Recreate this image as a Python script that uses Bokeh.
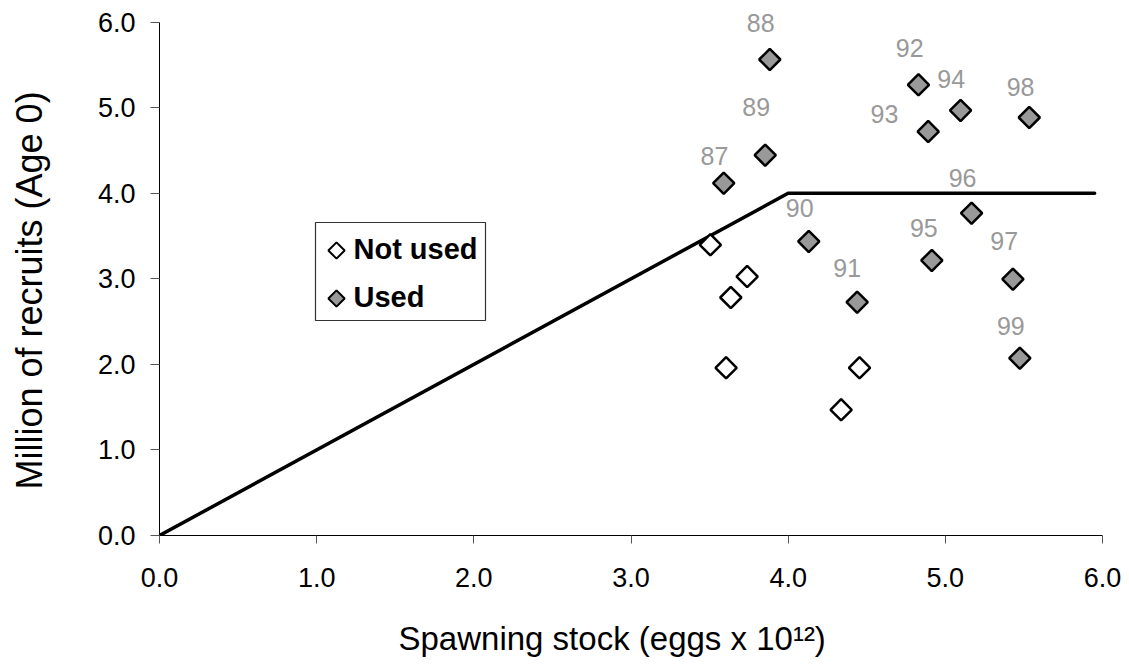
from bokeh.plotting import figure
from bokeh.models import (Range1d, FixedTicker, PrintfTickFormatter, ColumnDataSource, Title)
from bokeh.core.properties import value
from bokeh.embed import file_html
from bokeh.resources import INLINE
import math

# ---------------- data ----------------
line_x = [0.0, 4.0, 5.95]
line_y = [0.0, 4.0, 4.0]

unused_x = [3.505, 3.739, 3.635, 3.605, 4.454, 4.337]
unused_y = [3.398, 3.027, 2.782, 1.960, 1.960, 1.469]

used_years = ["87", "88", "89", "90", "91", "92", "93", "94", "95", "96", "97", "98", "99"]
used_x = [3.590, 3.883, 3.854, 4.131, 4.439, 4.829, 4.891, 5.097, 4.914, 5.167, 5.430, 5.534, 5.474]
used_y = [4.118, 5.564, 4.445, 3.437, 2.727, 5.268, 4.722, 4.968, 3.215, 3.767, 2.996, 4.886, 2.072]

x_ticks = [0, 1, 2, 3, 4, 5, 6]
y_ticks = [0, 1, 2, 3, 4, 5, 6]

legend_labels = ["Not used", "Used"]
x_title = "Spawning stock (eggs x 10\u00b9\u00b2)"
y_title = "Million of recruits (Age 0)"

# ---------------- layout (pixels) ----------------
label_dx = [-9.3, -9, -9, -9, -10, -8.7, -43.7, -9.3, -8, -9, -8.7, -8.7, -9]
label_dy = [-27, -36, -48, -33.5, -34, -37, -17.7, -31, -32.5, -35, -38, -31, -32]

CW, CH = 1129, 671
FL, FR = 159, 1102          # frame left / right (x = 0 .. 6)
FY6, FY0 = 21.7, 535        # pixel rows of y = 6 and y = 0
BL, BR, BT, BB = FL, CW - FR, 0, CH - FY0
PX_X = (FR - FL) / 6.0
PX_Y = (FY0 - FY6) / 6.0
Y_END = FY0 / PX_Y           # frame extends to top of canvas so labels are not clipped

FONT = "Liberation Sans"


def px_to_data(px, py):
    return (px - FL) / PX_X, (FY0 - py) / PX_Y


p = figure(width=CW, height=CH, output_backend="svg", toolbar_location=None,
           x_range=Range1d(0, 6), y_range=Range1d(0, Y_END),
           min_border_left=BL, min_border_right=BR,
           min_border_top=BT, min_border_bottom=BB)
p.outline_line_color = None
p.xgrid.visible = False
p.ygrid.visible = False
p.background_fill_color = "white"
p.border_fill_color = "white"

for ax, ticks in ((p.xaxis[0], x_ticks), (p.yaxis[0], y_ticks)):
    ax.ticker = FixedTicker(ticks=ticks)
    ax.formatter = PrintfTickFormatter(format="%.1f")
    ax.bounds = (0, 6)
    ax.axis_line_color = "black"
    ax.axis_line_width = 1
    ax.major_tick_line_color = "#555555"
    ax.major_tick_in = 0
    ax.minor_tick_line_color = None
    ax.major_label_text_font = FONT
    ax.major_label_text_font_size = "27px"
    ax.major_label_text_color = "black"

p.xaxis.major_tick_out = 8
p.xaxis.major_label_standoff = 24
p.yaxis.major_tick_out = 9
p.yaxis.major_label_standoff = 15


def spacer(size):
    # blank side-panel entry that only reserves room between tick labels and title
    return Title(text=" ", standoff=size, text_font_size="1px", text_color="white")


p.add_layout(spacer(20), "below")
p.add_layout(spacer(37), "left")

# axis titles (side-panel titles so they can sit off-centre like the original)
p.add_layout(Title(text=x_title, align="left", offset=239, standoff=10,
                   text_font=FONT, text_font_size="33px", text_font_style="normal",
                   text_color="black"), "below")
p.add_layout(Title(text=y_title, align="left", offset=46, standoff=10,
                   text_font=FONT, text_font_size="36px", text_font_style="normal",
                   text_color="black"), "left")

# stock-recruitment line
p.line(line_x, line_y, line_color="black", line_width=3.5, line_cap="round", line_join="miter")

# points
p.scatter(unused_x, unused_y, marker="square", size=15, angle=math.pi / 4,
          fill_color="white", line_color="black", line_width=2.5)
src = ColumnDataSource(dict(x=used_x, y=used_y, t=used_years, dx=label_dx, dy=label_dy))
p.scatter("x", "y", source=src, marker="square", size=15, angle=math.pi / 4,
          fill_color="#999999", line_color="black", line_width=2.5)
p.text("x", "y", text="t", source=src, x_offset="dx", y_offset="dy",
       text_font=value(FONT), text_font_size="25px", text_color="#999999",
       text_align="center", text_baseline="middle")

# hand-drawn legend (box and entries placed in page pixels)
bx0, by0 = px_to_data(315, 222)
bx1, by1 = px_to_data(485, 320)
p.quad(left=[bx0], right=[bx1], top=[by0], bottom=[by1],
       fill_color="white", line_color="#333333", line_width=1.2)
leg_fill = ["white", "#999999"]
leg_py = [250, 298]
for lab, fc, py in zip(legend_labels, leg_fill, leg_py):
    mx, my = px_to_data(336, py)
    p.scatter([mx], [my], marker="square", size=11.5, angle=math.pi / 4,
              fill_color=fc, line_color="black", line_width=2)
    lx, ly = px_to_data(353, py - 2)
    p.text([lx], [ly], text=[lab], text_font=value(FONT), text_font_size="29px",
           text_font_style="bold", text_color="black",
           text_align="left", text_baseline="middle")

open("out.html", "w").write(file_html(p, INLINE))
